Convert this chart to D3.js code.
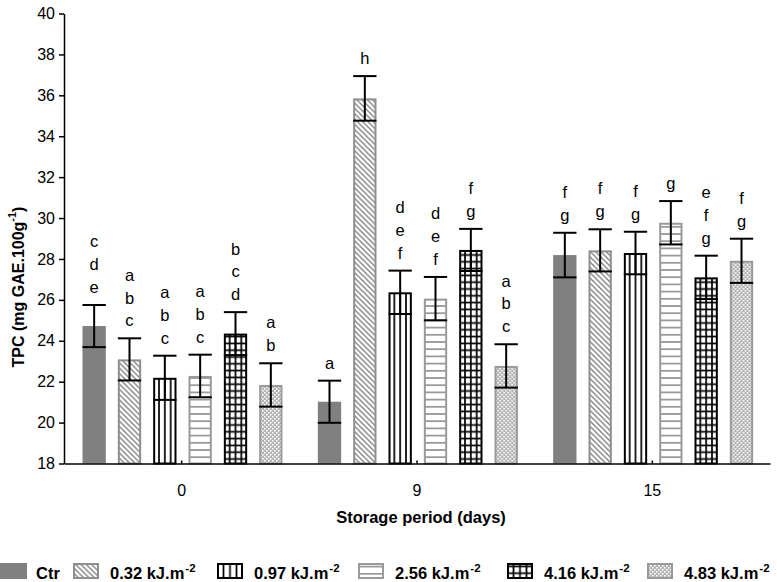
<!DOCTYPE html>
<html><head><meta charset="utf-8">
<script src="https://cdn.jsdelivr.net/npm/d3@7"></script>
<style>
body{margin:0;background:#fff}
svg{display:block}
text{font-family:"Liberation Sans",Arial,Helvetica,sans-serif;fill:#000}
</style></head>
<body><svg id="chart" width="777" height="582"></svg>
<script>
// ---- data ----
const categories = ["0", "9", "15"];
const seriesNames = ["Ctr", "0.32", "0.97", "2.56", "4.16", "4.83"];
const yTickValues = [18, 20, 22, 24, 26, 28, 30, 32, 34, 36, 38, 40];

const ctrValues  = [24.72, 21.02, 28.19];
const s032Values = [23.09, 35.85, 28.42];
const s097Values = [22.19, 26.37, 28.29];
const s256Values = [22.28, 26.06, 29.77];
const s416Values = [24.35, 28.44, 27.10];
const s483Values = [21.84, 22.77, 27.91];

const ctrErrors  = [1.03, 1.03, 1.09];
const s032Errors = [1.03, 1.09, 1.03];
const s097Errors = [1.08, 1.06, 1.04];
const s256Errors = [1.04, 1.06, 1.06];
const s416Errors = [1.05, 1.03, 1.06];
const s483Errors = [1.06, 1.06, 1.08];

const ctrLetters  = ["cde", "a", "fg"];
const s032Letters = ["abc", "h", "fg"];
const s097Letters = ["abc", "def", "fg"];
const s256Letters = ["abc", "def", "g"];
const s416Letters = ["bcd", "fg", "efg"];
const s483Letters = ["ab", "abc", "fg"];

// ---- table ----
const kinds = ["solid", "diag", "vert", "horiz", "grid", "check"];
const allValues = [ctrValues, s032Values, s097Values, s256Values, s416Values, s483Values];
const allErrors = [ctrErrors, s032Errors, s097Errors, s256Errors, s416Errors, s483Errors];
const allLetters = [ctrLetters, s032Letters, s097Letters, s256Letters, s416Letters, s483Letters];
const series = seriesNames.map((n, i) => ({name: n, kind: kinds[i], values: allValues[i], errors: allErrors[i], letters: allLetters[i]}));

const svg = d3.select("#chart");
const defs = svg.append("defs");

const x0 = d3.scaleBand().domain(categories).range([64, 770]).padding(0);
const x1 = d3.scaleBand().domain(seriesNames).range([18.5, 218.5]).paddingInner(0.34).paddingOuter(0);
const y = d3.scaleLinear().domain([18, 40]).range([463.5, 13.5]);
const bw = x1.bandwidth();

const strokeOf = {solid: "none", diag: "#8f8f8f", vert: "#000", horiz: "#9a9a9a", grid: "#000", check: "#9a9a9a"};

function addPattern(id, kind, bx, w) {
  if (kind === "solid") return "#808080";
  const p = defs.append("pattern").attr("id", id).attr("patternUnits", "userSpaceOnUse");
  if (kind === "diag") {
    const s = 5.3;
    p.attr("width", s).attr("height", s);
    p.append("rect").attr("width", s).attr("height", s).attr("fill", "#fff");
    p.append("path").attr("d", `M0,0L${s},${s}M${-s/2},${s/2}L${s/2},${s*1.5}M${s/2},${-s/2}L${s*1.5},${s/2}`)
      .attr("stroke", "#7a7a7a").attr("stroke-width", 1.3);
  } else if (kind === "vert") {
    p.attr("x", bx - w / 8).attr("width", w / 4).attr("height", 10);
    p.append("rect").attr("width", w / 4).attr("height", 10).attr("fill", "#fff");
    p.append("line").attr("x1", w / 8).attr("x2", w / 8).attr("y1", 0).attr("y2", 10).attr("stroke", "#000").attr("stroke-width", 1.7);
  } else if (kind === "horiz") {
    const h = 7.2;
    p.attr("width", 10).attr("height", h);
    p.append("rect").attr("width", 10).attr("height", h).attr("fill", "#fff");
    p.append("line").attr("x1", 0).attr("x2", 10).attr("y1", h / 2).attr("y2", h / 2).attr("stroke", "#9a9a9a").attr("stroke-width", 1.8);
  } else if (kind === "grid") {
    const h = 6.8;
    p.attr("x", bx - w / 8).attr("y", 0).attr("width", w / 4).attr("height", h);
    p.append("rect").attr("width", w / 4).attr("height", h).attr("fill", "#fff");
    p.append("line").attr("x1", w / 8).attr("x2", w / 8).attr("y1", 0).attr("y2", h).attr("stroke", "#000").attr("stroke-width", 1.7);
    p.append("line").attr("x1", 0).attr("x2", w / 4).attr("y1", h / 2).attr("y2", h / 2).attr("stroke", "#000").attr("stroke-width", 1.7);
  } else if (kind === "check") {
    const s = 4;
    p.attr("width", s).attr("height", s);
    p.append("rect").attr("width", s).attr("height", s).attr("fill", "#b3b3b3");
    p.append("rect").attr("x", 0).attr("y", 0).attr("width", 1.6).attr("height", 1.6).attr("fill", "#fff");
    p.append("rect").attr("x", 2).attr("y", 2).attr("width", 1.6).attr("height", 1.6).attr("fill", "#fff");
  }
  return `url(#${id})`;
}

function drawBox(g, kind, fill, bx, top, w, bottom) {
  if (kind === "solid") {
    g.append("rect").attr("x", bx).attr("y", top).attr("width", w).attr("height", bottom - top).attr("fill", fill);
  } else {
    g.append("rect").attr("x", bx + 1).attr("y", top + 1).attr("width", w - 2).attr("height", bottom - top - 1)
      .attr("fill", fill).attr("stroke", strokeOf[kind]).attr("stroke-width", 2);
  }
}

const fills = series.map((s, i) => addPattern("bp" + i, s.kind, x1(s.name), bw));

// ---- bars ----
categories.forEach((cat, ci) => {
  const g = svg.append("g").attr("transform", `translate(${x0(cat)},0)`);
  series.forEach((s, si) => {
    const v = s.values[ci], e = s.errors[ci];
    const bx = x1(s.name);
    drawBox(g, s.kind, fills[si], bx, y(v), bw, y(18));
    const cx = bx + bw / 2;
    const eb = g.append("g").attr("stroke", "#000").attr("stroke-width", 2);
    eb.append("line").attr("x1", cx).attr("x2", cx).attr("y1", y(v + e)).attr("y2", y(v - e));
    eb.append("line").attr("x1", bx).attr("x2", bx + bw).attr("y1", y(v + e)).attr("y2", y(v + e));
    eb.append("line").attr("x1", bx).attr("x2", bx + bw).attr("y1", y(v - e)).attr("y2", y(v - e));
    const letters = s.letters[ci].split("");
    letters.reverse().forEach((ch, j) => {
      g.append("text").attr("x", cx).attr("y", y(v + e) - 18 - 22.8 * j)
        .attr("text-anchor", "middle").attr("dominant-baseline", "central")
        .style("font-size", "16.5px").text(ch);
    });
  });
});

// ---- axes ----
const yAxis = svg.append("g").attr("transform", "translate(64,0)")
  .call(d3.axisLeft(y).tickValues(yTickValues).tickFormat(d3.format("d")).tickSize(5).tickSizeOuter(0).tickPadding(4));
yAxis.selectAll("text").style("font-size", "16px");
yAxis.selectAll("line,path").attr("stroke", "#000").attr("stroke-width", 1.5);

const xAxis = svg.append("g").attr("transform", `translate(0,${y(18)})`)
  .call(d3.axisBottom(x0).tickSize(-3).tickSizeOuter(0).tickPadding(21));
xAxis.selectAll("text").style("font-size", "16px");
xAxis.selectAll("line,path").attr("stroke", "#000").attr("stroke-width", 1.5);

// ---- titles ----
const yt = svg.append("text").attr("transform", "translate(18,287) rotate(-90)")
  .attr("text-anchor", "middle").attr("dominant-baseline", "central")
  .style("font-size", "16px").style("font-weight", "bold");
yt.append("tspan").text("TPC (mg GAE.100g");
yt.append("tspan").attr("dy", -6).style("font-size", "11px").text("-1");
yt.append("tspan").attr("dy", 6).text(")");

svg.append("text").attr("x", 421).attr("y", 523).attr("text-anchor", "middle")
  .style("font-size", "16.5px").style("font-weight", "bold").text("Storage period (days)");

// ---- legend ----
const legendX = [0, 73, 217, 358, 507, 647];
series.forEach((s, i) => {
  const lx = legendX[i];
  const lw = i === 0 ? 27 : 26;
  const lg = svg.append("g").attr("transform", `translate(0,563)`);
  const f = addPattern("lp" + i, s.kind, lx, lw);
  drawBox(lg, s.kind, f, lx, 0, lw, 16);
  if (s.kind !== "solid") lg.select("rect").attr("height", 14);
  const t = svg.append("text").attr("x", lx + (i === 0 ? 36 : 37)).attr("y", 578.5)
    .style("font-size", "16.5px").style("font-weight", "bold");
  if (i === 0) {
    t.text(s.name);
  } else {
    t.append("tspan").text(s.name + " kJ.m");
    t.append("tspan").attr("dy", -7).attr("dx", 1).style("font-size", "11.5px").text("-2");
  }
});
</script>
</body></html>
